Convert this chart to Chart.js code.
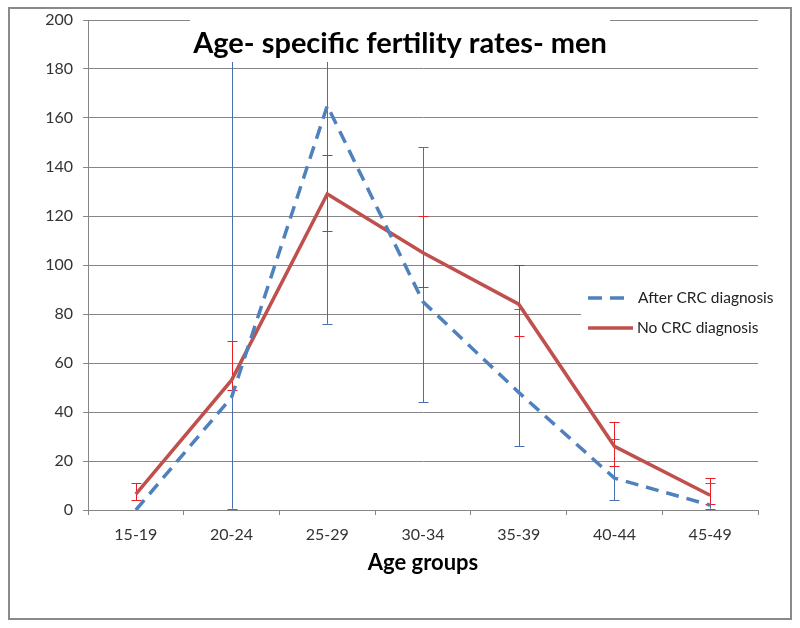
<!DOCTYPE html>
<html><head><meta charset="utf-8">
<script src="https://cdn.jsdelivr.net/npm/chart.js@4/dist/chart.umd.min.js"></script>
<style>html,body{margin:0;padding:0;background:#fff}#wrap{width:800px;height:628px;position:relative}</style>
</head><body><div id="wrap"><canvas id="c" width="800" height="628"></canvas></div>
<script>
const categories = ['15-19','20-24','25-29','30-34','35-39','40-44','45-49'];
const afterCRC  = [0, 46, 165, 85, 48, 13, 2];
const afterLow  = [null, 0.5, 76, 44, 26, 4, 0.5];
const afterHigh = [null, 200, 200, 148, 82, 29, 11];
const noCRC  = [6.5, 53, 129, 105, 84, 26, 6];
const noLow  = [4, 49, 114, 91, 71, 18, 2.3];
const noHigh = [11, 69, 145, 120, 100, 36, 13];
const yMin = 0, yMax = 200, yStep = 20;
const seriesNames = ['After CRC diagnosis', 'No CRC diagnosis'];
const chartTitle = 'Age- specific fertility rates- men';
const xTitle = 'Age groups';

const BLUE = '#4F81BD', RED = '#C0504D';
const FONT = 'Lato, Calibri, Carlito, sans-serif';

const decor = {
  id: 'decor',
  beforeDraw(chart) {
    const ctx = chart.ctx;
    ctx.save(); ctx.fillStyle = '#fff'; ctx.fillRect(0, 0, chart.width, chart.height); ctx.restore();
  },
  beforeDatasetsDraw(chart) {
    const ctx = chart.ctx, xs = chart.scales.x, ys = chart.scales.y;
    const bars = [
      {lo: afterLow, hi: afterHigh, color: '#4A6FB0'},
      {lo: noLow, hi: noHigh, color: '#EE1C25'}
    ];
    ctx.save();
    ctx.lineWidth = 1;
    bars.forEach(b => {
      ctx.strokeStyle = b.color;
      categories.forEach((c, i) => {
        if (b.lo[i] == null || b.hi[i] == null) return;
        const x = Math.round(xs.getPixelForValue(i)) + 0.5;
        const y1 = ys.getPixelForValue(b.lo[i]);
        const y2 = ys.getPixelForValue(b.hi[i]);
        ctx.beginPath();
        ctx.moveTo(x, y1); ctx.lineTo(x, y2);
        ctx.moveTo(x - 5, Math.round(y1) + 0.5); ctx.lineTo(x + 5, Math.round(y1) + 0.5);
        ctx.moveTo(x - 5, Math.round(y2) + 0.5); ctx.lineTo(x + 5, Math.round(y2) + 0.5);
        ctx.stroke();
      });
    });
    ctx.restore();
  },
  afterDatasetsDraw(chart) {
    const ctx = chart.ctx;
    ctx.save();
    // title box
    ctx.fillStyle = '#fff';
    ctx.fillRect(190, 8, 420, 54);
    ctx.fillStyle = '#000';
    ctx.font = 'bold 29px ' + FONT;
    ctx.textAlign = 'center'; ctx.textBaseline = 'middle';
    ctx.fillText(chartTitle, 400, 44);
    // legend
    ctx.fillStyle = '#fff';
    ctx.fillRect(581, 282, 204, 62);
    ctx.lineWidth = 3.5;
    ctx.strokeStyle = BLUE; ctx.setLineDash([14, 8]);
    ctx.beginPath(); ctx.moveTo(588, 298); ctx.lineTo(632, 298); ctx.stroke();
    ctx.setLineDash([]);
    ctx.strokeStyle = RED;
    ctx.beginPath(); ctx.moveTo(588, 328); ctx.lineTo(633, 328); ctx.stroke();
    ctx.fillStyle = '#222';
    ctx.font = '15.5px ' + FONT;
    ctx.textAlign = 'left'; ctx.textBaseline = 'middle';
    ctx.fillText(seriesNames[0], 638, 298);
    ctx.fillText(seriesNames[1], 637, 328);
    ctx.restore();
  },
  afterDraw(chart) {
    const ctx = chart.ctx;
    ctx.save();
    ctx.strokeStyle = '#8a8a8a'; ctx.lineWidth = 2;
    ctx.strokeRect(9, 8, 782, 611);
    ctx.restore();
  }
};

new Chart(document.getElementById('c'), {
  type: 'line',
  data: {
    labels: categories,
    datasets: [
      {label: seriesNames[0], data: afterCRC, borderColor: BLUE, borderWidth: 3.5, borderDash: [13, 8],
       pointRadius: 0, tension: 0, fill: false, borderCapStyle: 'butt'},
      {label: seriesNames[1], data: noCRC, borderColor: RED, borderWidth: 3.5,
       pointRadius: 0, tension: 0, fill: false}
    ]
  },
  options: {
    responsive: false, animation: false, devicePixelRatio: 1,
    layout: {padding: {left: 30, right: 42, top: 20, bottom: 51}},
    plugins: {legend: {display: false}, tooltip: {enabled: false}, title: {display: false}},
    scales: {
      x: {
        offset: true,
        grid: {offset: true, drawOnChartArea: false, drawTicks: true, tickLength: 5, color: '#868686'},
        border: {display: true, color: '#868686'},
        ticks: {font: {family: FONT, size: 16}, color: '#333', padding: 10, maxRotation: 0},
        title: {display: true, text: xTitle, font: {family: FONT, size: 22, weight: 'bold'}, color: '#000', padding: {top: 4, bottom: 1}},
        afterFit(s) { s.height = 67; }
      },
      y: {
        min: yMin, max: yMax,
        grid: {color: '#868686', tickLength: 5},
        border: {display: true, color: '#868686'},
        ticks: {stepSize: yStep, font: {family: FONT, size: 16}, color: '#333', padding: 10},
        afterFit(s) { s.width = 58; }
      }
    }
  },
  plugins: [decor]
});
</script></body></html>
